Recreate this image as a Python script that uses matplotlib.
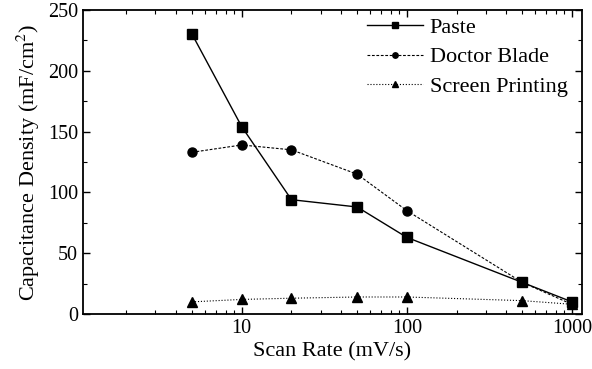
import numpy as np
import matplotlib.pyplot as plt
from matplotlib.ticker import MultipleLocator, LogLocator, NullFormatter

plt.rcParams['font.family'] = ['Liberation Serif', 'DejaVu Serif']
plt.rcParams['mathtext.fontset'] = 'stix'

# Scan rates and capacitance densities for each coating method
scan_rate = [5, 10, 20, 50, 100, 500, 1000]
paste = [230, 154, 94, 88, 63, 26, 10]
doctor_blade = [133, 139, 135, 115, 85, 26, 8]
screen_printing = [10, 12, 13, 14, 14, 11, 8]

fig = plt.figure(figsize=(5.92, 3.69), dpi=100)
ax = fig.add_axes([0.140, 0.149, 0.843, 0.824])

ax.plot(scan_rate, paste, '-', color='black', lw=1.0, marker='s', ms=6.5, label='Paste')
ax.plot(scan_rate, doctor_blade, '--', color='black', lw=0.8, dashes=(2.5, 1.5),
        marker='o', ms=6.5, label='Doctor Blade')
ax.plot(scan_rate, screen_printing, ':', color='black', lw=0.8,
        marker='^', ms=6.5, label='Screen Printing')

ax.set_xscale('log')
ax.set_xlim(1.09, 1150)
ax.set_ylim(0, 250)
ax.xaxis.set_major_locator(LogLocator(base=10))
ax.xaxis.set_minor_locator(LogLocator(base=10, subs=np.arange(2, 10)))
ax.xaxis.set_minor_formatter(NullFormatter())
ax.set_xticks([10, 100, 1000])
ax.set_xticklabels(['10', '100', '1000'])
ax.yaxis.set_major_locator(MultipleLocator(50))
ax.yaxis.set_minor_locator(MultipleLocator(25))

ax.tick_params(which='both', direction='in', top=True, right=True, labelsize=14.5)
ax.tick_params(which='major', length=5, width=1)
ax.tick_params(which='minor', length=3, width=0.8)
for s in ax.spines.values():
    s.set_linewidth(1.3)

ax.set_xlabel('Scan Rate (mV/s)', fontsize=16, labelpad=3)
ax.set_ylabel('Capacitance Density (mF/cm$^2$)', fontsize=16, labelpad=4)

ax.legend(loc='upper right', bbox_to_anchor=(0.98, 0.99), frameon=False,
          fontsize=16, handlelength=2.5, borderaxespad=0.0, borderpad=0.2,
          labelspacing=0.4, handletextpad=0.3, markerscale=0.6)

fig.savefig('out.png', dpi=100)
